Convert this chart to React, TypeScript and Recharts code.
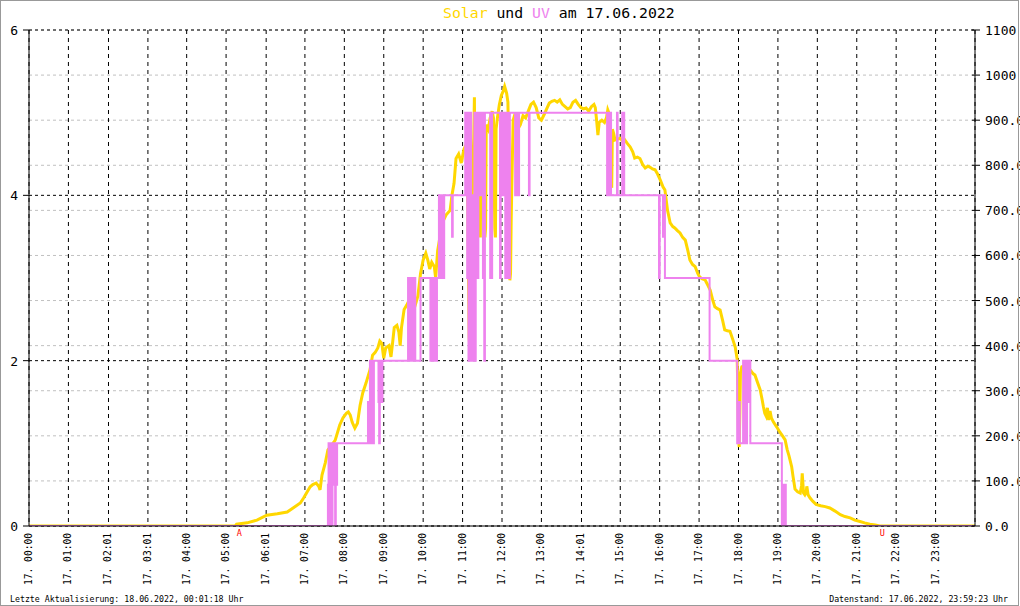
import React from 'react';
import { LineChart, Line, XAxis, YAxis, CartesianGrid, ReferenceDot } from 'recharts';

// ---------- texts ----------
const titleParts = [
  { text: 'Solar', color: '#FFD700' },
  { text: ' und ', color: '#000000' },
  { text: 'UV', color: '#EE82EE' },
  { text: ' am 17.06.2022', color: '#000000' },
];
const footerLeft = 'Letzte Aktualisierung: 18.06.2022, 00:01:18 Uhr';
const footerRight = 'Datenstand: 17.06.2022, 23:59:23 Uhr';

// ---------- axes ----------
const xTickLabels = [
  '17. 00:00', '17. 01:00', '17. 02:01', '17. 03:01', '17. 04:00', '17. 05:00',
  '17. 06:01', '17. 07:00', '17. 08:00', '17. 09:00', '17. 10:00', '17. 11:00',
  '17. 12:00', '17. 13:00', '17. 14:01', '17. 15:00', '17. 16:00', '17. 17:00',
  '17. 18:00', '17. 19:00', '17. 20:00', '17. 21:00', '17. 22:00', '17. 23:00',
];
const uvTicks = [0, 2, 4, 6];
const solarTicks = [0, 100, 200, 300, 400, 500, 600, 700, 800, 900, 1000, 1100];
const sunEvents = [
  { minute: 320, label: 'A' },
  { minute: 1299, label: 'U' },
];

// ---------- series: Solar (W/m², minutes after midnight) ----------
const solarMinutes = [
  0, 314, 316, 332, 347, 362, 378, 393, 402, 413, 418, 422, 428, 432, 437, 441, 443, 446, 451, 455,
  460, 466, 473, 478, 483, 486, 489, 492, 496, 500, 504, 508, 513, 519, 523, 527, 531, 534, 537, 540,
  543, 548, 551, 553, 556, 560, 563, 565, 567, 571, 575, 580, 584, 588, 592, 596, 600, 604, 607, 610,
  613, 617, 619, 622, 626, 630, 635, 641, 644, 647, 650, 654, 658, 662, 665, 667, 668, 669, 670, 671,
  672, 673, 675, 677, 678, 679, 680, 681, 682, 684, 686, 687, 688, 690, 692, 694, 695, 696, 699, 702,
  705, 707, 709, 710, 711, 713, 716, 719, 722, 724, 727, 729, 731, 732, 733, 734, 735, 737, 740, 744,
  748, 752, 756, 760, 764, 768, 772, 776, 780, 784, 788, 792, 796, 800, 804, 808, 812, 816, 820, 824,
  828, 832, 836, 840, 844, 848, 852, 856, 860, 862, 864, 866, 868, 872, 876, 879, 881, 883, 885, 886,
  887, 888, 890, 892, 896, 900, 904, 907, 911, 915, 919, 922, 926, 930, 934, 938, 942, 945, 949, 953,
  957, 961, 965, 968, 972, 976, 980, 983, 987, 991, 995, 999, 1003, 1006, 1010, 1014, 1018, 1021, 1025, 1029,
  1033, 1037, 1041, 1044, 1048, 1052, 1056, 1059, 1063, 1067, 1071, 1075, 1078, 1079, 1080, 1081, 1082, 1083, 1085, 1088,
  1090, 1094, 1098, 1102, 1105, 1109, 1113, 1116, 1118, 1120, 1122, 1124, 1126, 1128, 1130, 1133, 1138, 1143, 1147, 1151,
  1154, 1157, 1161, 1163, 1166, 1170, 1174, 1176, 1177, 1178, 1179, 1181, 1183, 1184, 1185, 1186, 1189, 1193, 1198, 1205,
  1212, 1219, 1227, 1235, 1242, 1250, 1257, 1265, 1272, 1280, 1288, 1295, 1440,
];
const solarWatts = [
  0, 0, 4, 7, 13, 24, 27, 31, 40, 51, 62, 72, 87, 92, 95, 88, 80, 113, 140, 169,
  178, 190, 224, 240, 250, 253, 246, 230, 217, 228, 268, 295, 317, 346, 379, 385, 395, 410, 405, 372,
  395, 400, 375, 400, 440, 445, 430, 400, 440, 480, 490, 505, 500, 490, 510, 560, 590, 605, 590, 570,
  585, 575, 550, 610, 645, 675, 690, 700, 735, 760, 815, 825, 805, 835, 845, 790, 700, 560, 420, 395,
  520, 700, 770, 860, 951, 720, 560, 640, 780, 840, 700, 640, 820, 870, 900, 640, 660, 890, 880, 905,
  920, 905, 660, 640, 880, 905, 935, 955, 965, 975, 960, 940, 760, 545, 560, 679, 760, 900, 915, 880,
  890, 910, 905, 920, 935, 940, 928, 905, 900, 912, 925, 938, 942, 944, 940, 945, 935, 930, 925, 928,
  940, 944, 935, 928, 925, 927, 920, 930, 935, 928, 900, 867, 895, 900, 895, 905, 923, 915, 880, 760,
  750, 880, 870, 856, 858, 860, 852, 856, 848, 841, 830, 816, 818, 815, 802, 794, 798, 796, 792, 790,
  780, 767, 752, 745, 700, 672, 664, 661, 655, 650, 640, 634, 610, 590, 580, 575, 560, 552, 548, 546,
  535, 523, 500, 486, 482, 479, 455, 435, 433, 432, 415, 397, 370, 300, 200, 175, 250, 340, 353, 355,
  353, 350, 346, 338, 335, 318, 302, 280, 264, 250, 244, 262, 235, 255, 240, 231, 220, 208, 200, 191,
  170, 155, 131, 110, 82, 76, 73, 90, 117, 95, 73, 69, 75, 88, 78, 69, 62, 55, 48, 45,
  43, 40, 33, 25, 21, 18, 13, 10, 7, 4, 2, 0, 0,
];

// ---------- series: UV index (stepped, minutes after midnight) ----------
const uvMinutes = [
  0, 455, 456, 457, 458, 459, 460, 461, 462, 463, 464, 465, 466, 467, 468, 469,
  516, 517, 519, 520, 521, 522, 523, 524, 525, 532, 533, 534, 535, 536, 537, 538,
  577, 579, 580, 582, 584, 586, 587, 588, 596, 611, 613, 615, 617, 619, 621,
  624, 626, 628, 630, 632, 644, 645,
  664, 665, 666, 667, 668, 669, 670, 671, 672, 673, 674, 675, 676, 677, 678, 679, 680, 681, 682, 683, 684, 685,
  686, 687, 688, 689, 690, 691, 692, 693, 694, 702, 703, 704, 705,
  717, 718, 719, 720, 722, 723, 725, 726, 727, 728, 729, 730, 731, 732,
  740, 741, 742, 743, 745, 746, 761, 762,
  880, 881, 882, 883, 884, 885, 886, 895, 896, 903, 904, 905, 906,
  959, 960, 965, 966, 968, 1036,
  1078, 1079, 1080, 1081, 1082, 1087, 1088, 1089, 1090, 1091, 1092, 1093, 1094, 1095, 1096, 1097, 1098,
  1146, 1147, 1148, 1149, 1150, 1151, 1152, 1440,
];
const uvIndex = [
  0, 0.5, 1, 0, 1, 0.5, 1, 0, 1, 0.5, 1, 0.5, 0, 1, 0.5, 1,
  1.5, 1, 2, 1, 2, 1, 2, 1, 2, 1.5, 1, 2, 1.5, 2, 1.5, 2,
  3, 2, 3, 2, 3, 2, 3, 2, 3, 2, 3, 2, 3, 2, 3,
  4, 3, 4, 3, 4, 3.5, 4,
  5, 4, 5, 3, 5, 2, 4, 2, 5, 2, 3, 2, 4, 2, 5, 2, 4, 3, 5, 3, 5, 4,
  5, 4, 5, 4, 5, 3, 5, 2, 5, 3, 5, 3, 5,
  3, 5, 4, 5, 4, 5, 3, 5, 3, 5, 3, 5, 3, 5,
  4, 5, 4, 5, 4, 5, 4, 5,
  4, 5, 4, 5, 4, 5, 4, 5, 4, 5, 4, 5, 4,
  3, 4, 3.5, 4, 3, 2,
  1, 1.5, 1, 1.5, 1, 2, 1, 2, 1, 2, 1, 2, 1.5, 2, 1.5, 2, 1,
  0, 0.5, 0, 0.5, 0, 0.5, 0, 0,
];

const solarData = solarMinutes.map((m, i) => ({ m, v: solarWatts[i] }));
const uvData = uvMinutes.map((m, i) => ({ m, v: uvIndex[i] }));
const xTickMinutes = xTickLabels.map((l) => {
  const [h, mm] = l.slice(4).split(':');
  return Number(h) * 60 + Number(mm);
});

const MONO = '"DejaVu Sans Mono", "Liberation Mono", monospace';
const W = 1020;
const H = 606;
const PLOT_LEFT = 29;
const PLOT_RIGHT = 975;
const PLOT_TOP = 30;
const PLOT_BOTTOM = 526;

const XTick = (props: any) => {
  const { x, index } = props;
  const px = x + 3;
  const py = PLOT_BOTTOM + 7;
  return (
    <text
      x={px}
      y={py}
      transform={`rotate(-90 ${px} ${py})`}
      textAnchor="end"
      fontFamily={MONO}
      fontSize={9.6}
      fill="#000"
    >
      {xTickLabels[index]}
    </text>
  );
};

const LeftTick = (props: any) => {
  const { y, payload } = props;
  return (
    <g>
      <line x1={PLOT_LEFT - 6} x2={PLOT_LEFT} y1={y} y2={y} stroke="#000" strokeWidth={1} />
      <text x={18} y={y + 5} textAnchor="end" fontFamily={MONO} fontSize={13} fill="#000">
        {payload.value}
      </text>
    </g>
  );
};

const RightTick = (props: any) => {
  const { y, payload } = props;
  const v = payload.value as number;
  const label = v >= 1000 ? String(v) : v.toFixed(1);
  return (
    <g>
      <line x1={PLOT_RIGHT - 3} x2={PLOT_RIGHT + 5} y1={y} y2={y} stroke="#000" strokeWidth={1} />
      <text x={PLOT_RIGHT + 10} y={y + 5} textAnchor="start" fontFamily={MONO} fontSize={13} fill="#000">
        {label}
      </text>
    </g>
  );
};

export default function App() {
  return (
    <div style={{ position: 'absolute', left: 0, top: 0, width: W, height: H, background: '#fff' }}>
      <LineChart
        width={W}
        height={H}
        margin={{ top: PLOT_TOP, right: 0, bottom: 0, left: 0 }}
      >
        <CartesianGrid xAxisId="t" yAxisId="solar" vertical={false} stroke="#c0c0c0" strokeDasharray="3 3" />
        <CartesianGrid xAxisId="t" yAxisId="uv" vertical={false} stroke="#000" strokeDasharray="3 3" />
        <CartesianGrid xAxisId="t" yAxisId="uv" horizontal={false} stroke="#000" strokeDasharray="4 4" />
        <XAxis
          xAxisId="t"
          type="number"
          dataKey="m"
          domain={[0, 1440]}
          ticks={xTickMinutes}
          interval={0}
          height={H - PLOT_BOTTOM}
          tickLine={false}
          axisLine={{ stroke: '#000' }}
          tick={<XTick />}
          allowDataOverflow
        />
        <YAxis
          yAxisId="uv"
          orientation="left"
          width={PLOT_LEFT}
          domain={[0, 6]}
          ticks={uvTicks}
          interval={0}
          tickLine={false}
          axisLine={{ stroke: '#000' }}
          tick={<LeftTick />}
          allowDataOverflow
        />
        <YAxis
          yAxisId="solar"
          orientation="right"
          width={W - PLOT_RIGHT}
          domain={[0, 1100]}
          ticks={solarTicks}
          interval={0}
          tickLine={false}
          axisLine={{ stroke: '#000' }}
          tick={<RightTick />}
          allowDataOverflow
        />
        <Line
          xAxisId="t"
          yAxisId="solar"
          data={solarData}
          dataKey="v"
          type="linear"
          stroke="#FFD700"
          strokeWidth={3}
          dot={false}
          activeDot={false}
          isAnimationActive={false}
        />
        <Line
          xAxisId="t"
          yAxisId="uv"
          data={uvData}
          dataKey="v"
          type="stepAfter"
          stroke="#EE82EE"
          strokeWidth={2}
          dot={false}
          activeDot={false}
          isAnimationActive={false}
        />
        {sunEvents.map((e) => (
          <ReferenceDot
            key={e.label}
            xAxisId="t"
            yAxisId="uv"
            x={e.minute}
            y={0}
            r={0}
            ifOverflow="visible"
            shape={(p: any) => (
              <text x={p.cx} y={p.cy + 10} textAnchor="middle" fontFamily={MONO} fontSize={8.5} fill="#ff0000">
                {e.label}
              </text>
            )}
          />
        ))}
      </LineChart>
      <svg
        width={W}
        height={H}
        style={{ position: 'absolute', left: 0, top: 0, pointerEvents: 'none' }}
      >
        <rect x={0.5} y={0.5} width={W - 2} height={H - 1} fill="none" stroke="#999" strokeWidth={1} />
        <text x={443} y={18} fontFamily={MONO} fontSize={14.8} style={{ whiteSpace: 'pre' }}>
          {titleParts.map((p, i) => (
            <tspan key={i} fill={p.color}>{p.text}</tspan>
          ))}
        </text>
        <text x={10} y={602} fontFamily={MONO} fontSize={8.25} fill="#000" style={{ whiteSpace: 'pre' }}>
          {footerLeft}
        </text>
        <text x={1008} y={602} textAnchor="end" fontFamily={MONO} fontSize={8.25} fill="#000" style={{ whiteSpace: 'pre' }}>
          {footerRight}
        </text>
      </svg>
    </div>
  );
}
